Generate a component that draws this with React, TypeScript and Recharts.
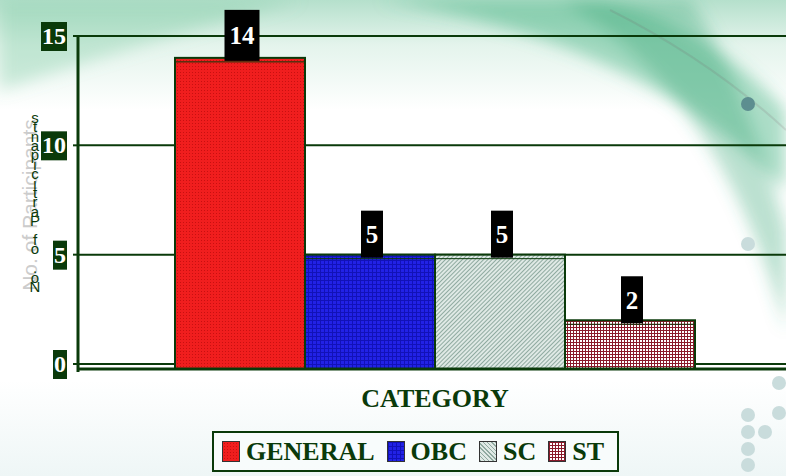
import React from 'react'
import {
  BarChart,
  Bar,
  XAxis,
  YAxis,
  CartesianGrid,
  ReferenceLine,
  LabelList
} from 'recharts'

const categories = ['CATEGORY']
const seriesNames = ['GENERAL', 'OBC', 'SC', 'ST']
const seriesValues = [14, 5, 5, 2]
const yTicks = [0, 5, 10, 15]
const yLabel = 'No. of Participants'

const DARK = '#0a3a0a'
const SERIF = '"Liberation Serif", "Times New Roman", serif'

const fills = ['url(#patGeneral)', 'url(#patObc)', 'url(#patSc)', 'url(#patSt)']
const legendSwatches = [
  'radial-gradient(circle, #c81010 30%, #f01e1e 31%) 0 0 / 3px 3px, #f01e1e',
  'linear-gradient(#1212b8 1px, transparent 1px) 0 0 / 4px 4px, linear-gradient(90deg, #1212b8 1px, #2222e6 1px) 0 0 / 4px 4px',
  'repeating-linear-gradient(45deg, #8faaa0 0 1px, #dfe9e5 1px 3px)',
  'linear-gradient(#8a1a2a 1px, transparent 1px) 0 0 / 3px 3px, linear-gradient(90deg, #8a1a2a 1px, #ffffff 1px) 0 0 / 3px 3px'
]

const data = categories.map((name) => {
  const row: any = { name }
  seriesNames.forEach((s, i) => {
    row[s] = seriesValues[i]
  })
  return row
})

const BarShape = (props: any) => {
  const { x, y, width, height, fill } = props
  if (!width) return null
  return (
    <g>
      <rect x={x} y={y} width={width} height={height + 5} fill={fill} stroke={DARK} strokeWidth={2} />
      <line x1={x} y1={y + 4} x2={x + width} y2={y + 4} stroke={DARK} strokeWidth={1} />
    </g>
  )
}

const ValueLabel = (props: any) => {
  const { x, y, width, value } = props
  const txt = String(value)
  const w = txt.length * 13 + 9
  const h = 47 + (txt.length - 1) * 4
  const cx = x + width / 2 + 2
  const bottom = y + 3
  return (
    <g>
      <rect x={cx - w / 2} y={bottom - h} width={w} height={h} fill="#000" />
      <text
        x={cx}
        y={bottom - h / 2 + 9}
        textAnchor="middle"
        fill="#fff"
        fontFamily={SERIF}
        fontWeight="bold"
        fontSize={25}
      >
        {txt}
      </text>
    </g>
  )
}

const YTick = (props: any) => {
  const { x, y, payload } = props
  const txt = String(payload.value)
  const w = txt.length * 12 + 2
  const right = x - 4
  return (
    <g>
      <rect x={right - w} y={y - 14} width={w} height={29} fill={DARK} />
      <text
        x={right - w / 2}
        y={y + 8}
        textAnchor="middle"
        fill="#fff"
        fontFamily={SERIF}
        fontWeight="bold"
        fontSize={24}
      >
        {txt}
      </text>
    </g>
  )
}

const XTick = (props: any) => {
  const { x, y, payload } = props
  return (
    <text
      x={x}
      y={y + 35}
      textAnchor="middle"
      fill={DARK}
      fontFamily={SERIF}
      fontWeight="bold"
      fontSize={26}
    >
      {payload.value}
    </text>
  )
}

const YLabel = (props: any) => {
  const chars = yLabel.split('')
  return (
    <g>
      <text
        transform="translate(37 205) rotate(-90)"
        textAnchor="middle"
        fill="#cccccc"
        fontFamily='"Liberation Sans", Arial, sans-serif'
        fontSize={21}
      >
        {yLabel}
      </text>
      {chars.map((c, i) => (
        <text
          key={i}
          x={35}
          y={292 - i * 9.4}
          textAnchor="middle"
          fill={DARK}
          fontFamily='"Liberation Sans", Arial, sans-serif'
          fontSize={15}
        >
          {c}
        </text>
      ))}
    </g>
  )
}

const FloorLine = (props: any) => {
  const { x1, y1, x2 } = props
  return (
    <g>
      <line x1={x1} y1={y1 + 5} x2={x2} y2={y1 + 5} stroke={DARK} strokeWidth={3} />
      <line x1={x1} y1={y1} x2={x1} y2={y1 + 8} stroke={DARK} strokeWidth={3} />
    </g>
  )
}

const dots = [
  { x: 748, y: 104, c: '#5d8e90' },
  { x: 748, y: 244, c: '#c9dcdc' },
  { x: 779, y: 383, c: '#c9dcdc' },
  { x: 779, y: 413, c: '#c9dcdc' },
  { x: 748, y: 415, c: '#c9dcdc' },
  { x: 748, y: 432, c: '#c9dcdc' },
  { x: 765, y: 432, c: '#c9dcdc' },
  { x: 748, y: 449, c: '#c9dcdc' },
  { x: 748, y: 465, c: '#c9dcdc' }
]

export default function App() {
  return (
    <div
      style={{
        position: 'absolute',
        left: 0,
        top: 0,
        width: 786,
        height: 476,
        overflow: 'hidden',
        background: 'linear-gradient(180deg, #b5e0cc 0px, #e4f4ec 45px, #ffffff 110px, #ffffff 380px, #eef6f6 476px)'
      }}
    >
      <svg width={786} height={476} style={{ position: 'absolute', left: 0, top: 0 }}>
        <defs>
          <filter id="blur"><feGaussianBlur stdDeviation="8" /></filter>
        </defs>
        <g filter="url(#blur)">
          <path d="M 380 0 Q 640 40 786 190 L 786 110 Q 700 20 600 0 Z" fill="rgba(70,180,130,0.45)" />
          <path d="M 560 0 Q 720 90 786 330 L 786 230 Q 740 70 690 0 Z" fill="rgba(60,170,120,0.35)" />
          <path d="M 0 0 L 300 0 Q 150 40 0 90 Z" fill="rgba(120,200,160,0.35)" />
        </g>
        <path d="M 610 10 Q 710 60 786 130" stroke="rgba(120,90,100,0.15)" strokeWidth={2} fill="none" />
        {dots.map((d, i) => (
          <circle key={i} cx={d.x} cy={d.y} r={7} fill={d.c} />
        ))}
      </svg>
      <div style={{ position: 'absolute', left: 0, top: 0 }}>
        <BarChart
          width={792}
          height={476}
          data={data}
          margin={{ top: 36, right: 0, left: 0, bottom: 34 }}
          barGap={0}
          barSize={130}
        >
          <defs>
            <pattern id="patGeneral" width="3" height="3" patternUnits="userSpaceOnUse">
              <rect width="3" height="3" fill="#f01e1e" />
              <rect width="1" height="1" fill="#c81010" />
            </pattern>
            <pattern id="patObc" width="4" height="4" patternUnits="userSpaceOnUse">
              <rect width="4" height="4" fill="#2222e6" />
              <rect width="4" height="1" fill="#1212b8" />
              <rect width="1" height="4" fill="#1212b8" />
            </pattern>
            <pattern id="patSc" width="3" height="3" patternUnits="userSpaceOnUse" patternTransform="rotate(45)">
              <rect width="3" height="3" fill="#dfe9e5" />
              <rect width="1" height="3" fill="#8faaa0" />
            </pattern>
            <pattern id="patSt" width="3" height="3" patternUnits="userSpaceOnUse">
              <rect width="3" height="3" fill="#ffffff" />
              <rect width="3" height="1" fill="#8a1a2a" />
              <rect width="1" height="3" fill="#8a1a2a" />
            </pattern>
          </defs>
          <CartesianGrid vertical={false} stroke={DARK} strokeWidth={2} />
          <XAxis
            dataKey="name"
            axisLine={false}
            tickLine={false}
            tick={<XTick />}
            height={78}
          />
          <YAxis
            width={78}
            domain={[0, 15]}
            ticks={yTicks}
            axisLine={{ stroke: DARK, strokeWidth: 3 }}
            tickLine={{ stroke: DARK, strokeWidth: 2 }}
            tickSize={5}
            tick={<YTick />}
            label={{ content: <YLabel /> }}
          />
          <ReferenceLine y={0} stroke={DARK} shape={<FloorLine />} />
          {seriesNames.map((s, i) => (
            <Bar key={s} dataKey={s} fill={fills[i]} shape={<BarShape />} isAnimationActive={false}>
              <LabelList dataKey={s} content={<ValueLabel />} />
            </Bar>
          ))}
        </BarChart>
      </div>
      <div
        style={{
          position: 'absolute',
          left: 212,
          top: 431,
          width: 403,
          height: 37,
          border: `2px solid ${DARK}`,
          background: 'rgba(248,252,252,0.9)',
          display: 'flex',
          alignItems: 'center',
          fontFamily: SERIF,
          fontWeight: 'bold',
          fontSize: 26,
          color: DARK
        }}
      >
        {seriesNames.map((s, i) => (
          <div key={s} style={{ display: 'flex', alignItems: 'center', marginLeft: i === 0 ? 8 : 12 }}>
            <span
              style={{
                display: 'inline-block',
                width: 16,
                height: 19,
                border: '1px solid #333',
                background: legendSwatches[i],
                marginRight: 6
              }}
            />
            <span>{s}</span>
          </div>
        ))}
      </div>
    </div>
  )
}
